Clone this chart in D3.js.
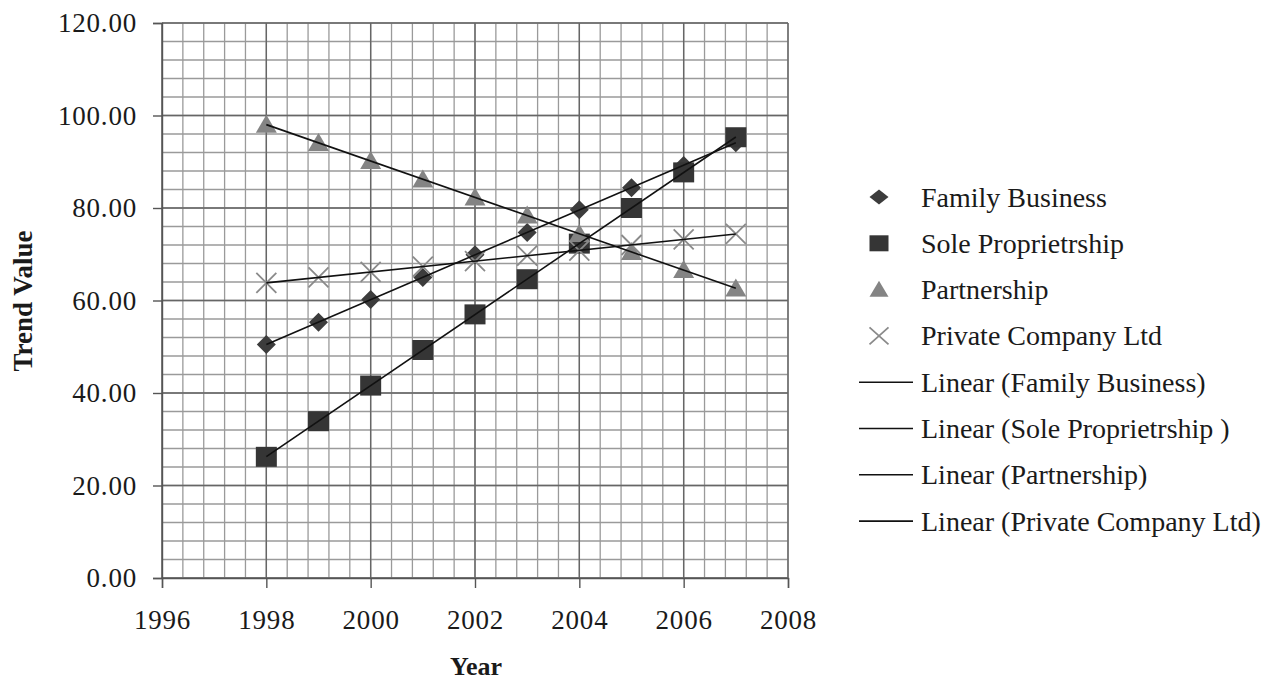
<!DOCTYPE html>
<html>
<head>
<meta charset="utf-8">
<script src="https://cdn.jsdelivr.net/npm/d3@7"></script>
<style>
  html, body { margin: 0; padding: 0; background: #fff; }
  svg { display: block; }
  text { font-family: "Liberation Serif", "Times New Roman", serif; fill: #1a1a1a; }
</style>
</head>
<body>
<svg id="chart" width="1265" height="682"></svg>
<script>
// Trend values by year for each form of business
const years = [1998, 1999, 2000, 2001, 2002, 2003, 2004, 2005, 2006, 2007];
const familyBusiness    = [50.5, 55.3, 60.2, 65.0, 69.9, 74.7, 79.6, 84.4, 89.2, 94.1];
const soleProprietrship = [26.2, 33.9, 41.6, 49.3, 57.0, 64.6, 72.3, 80.0, 87.7, 95.3];
const partnership       = [98.0, 94.1, 90.2, 86.2, 82.3, 78.4, 74.4, 70.5, 66.6, 62.6];
const privateCompany    = [63.8, 65.0, 66.2, 67.3, 68.5, 69.7, 70.8, 72.0, 73.2, 74.4];

const seriesNames = ["Family Business", "Sole Proprietrship", "Partnership", "Private Company Ltd"];
const trendNames = ["Linear (Family Business)", "Linear (Sole Proprietrship )", "Linear (Partnership)", "Linear (Private Company Ltd)"];
const xTicks = [1996, 1998, 2000, 2002, 2004, 2006, 2008];
const yTicks = [0, 20, 40, 60, 80, 100, 120];

const series = [
  { name: seriesNames[0], values: familyBusiness,    shape: "diamond",  color: "#3c3c3c" },
  { name: seriesNames[1], values: soleProprietrship, shape: "square",   color: "#353535" },
  { name: seriesNames[2], values: partnership,       shape: "triangle", color: "#848484" },
  { name: seriesNames[3], values: privateCompany,    shape: "cross",    color: "#8a8a8a" }
];

const svg = d3.select("#chart");
const plotL = 162, plotR = 788, plotT = 23, plotB = 578;

const x = d3.scaleLinear().domain([1996, 2008]).range([plotL, plotR]);
const y = d3.scaleLinear().domain([0, 120]).range([plotB, plotT]);

// grid: minor every 0.4 year / 4 units, major every 2 years / 20 units
const g = svg.append("g");
const minorX = d3.range(0, 31).map(i => 1996 + i * 0.4);
const minorY = d3.range(0, 31).map(i => i * 4);
g.selectAll("line.mx").data(minorX).join("line")
  .attr("x1", d => x(d)).attr("x2", d => x(d))
  .attr("y1", plotT).attr("y2", plotB)
  .attr("stroke", "#9a9a9a").attr("stroke-width", 1.3);
g.selectAll("line.my").data(minorY).join("line")
  .attr("y1", d => y(d)).attr("y2", d => y(d))
  .attr("x1", plotL).attr("x2", plotR)
  .attr("stroke", "#9a9a9a").attr("stroke-width", 1.3);
g.selectAll("line.MX").data(xTicks).join("line")
  .attr("x1", d => x(d)).attr("x2", d => x(d))
  .attr("y1", plotT).attr("y2", plotB)
  .attr("stroke", "#666").attr("stroke-width", 1.4);
g.selectAll("line.MY").data(yTicks).join("line")
  .attr("y1", d => y(d)).attr("y2", d => y(d))
  .attr("x1", plotL).attr("x2", plotR)
  .attr("stroke", "#666").attr("stroke-width", 1.4);

// axes
const yAxis = d3.axisLeft(y).tickValues(yTicks).tickFormat(d3.format(".2f")).tickSize(9).tickPadding(16);
const xAxis = d3.axisBottom(x).tickValues(xTicks).tickFormat(d3.format("d")).tickSize(10).tickPadding(22);
const ya = svg.append("g").attr("transform", `translate(${plotL},0)`).call(yAxis);
const xa = svg.append("g").attr("transform", `translate(0,${plotB})`).call(xAxis);
[ya, xa].forEach(a => {
  a.select(".domain").attr("stroke", "#555").attr("stroke-width", 1.4);
  a.selectAll(".tick line").attr("stroke", "#555").attr("stroke-width", 1.4);
  a.selectAll("text")
    .style("font-family", "Liberation Serif, serif")
    .style("font-size", "27px")
    .style("letter-spacing", "0.8px")
    .attr("fill", "#1a1a1a");
});

svg.append("text").attr("x", 476).attr("y", 675).attr("text-anchor", "middle")
  .style("font-size", "26px").style("font-weight", "bold").text("Year");
svg.append("text").attr("transform", "translate(32,301) rotate(-90)").attr("text-anchor", "middle")
  .style("font-size", "27px").style("font-weight", "bold").text("Trend Value");

// least-squares trend for each series
function fit(vals) {
  const n = years.length;
  const mx = d3.mean(years), my = d3.mean(vals);
  let sxy = 0, sxx = 0;
  for (let i = 0; i < n; i++) { sxy += (years[i] - mx) * (vals[i] - my); sxx += (years[i] - mx) ** 2; }
  const b = sxy / sxx, a = my - b * mx;
  return t => a + b * t;
}

function marker(sel, shape, color, w, h) {
  if (shape === "diamond") {
    sel.append("path").attr("d", `M0,${-h/2}L${w/2},0L0,${h/2}L${-w/2},0Z`).attr("fill", color);
  } else if (shape === "square") {
    sel.append("rect").attr("x", -w/2).attr("y", -h/2).attr("width", w).attr("height", h).attr("fill", color);
  } else if (shape === "triangle") {
    sel.append("path").attr("d", `M0,${-h*0.55}L${w/2},${h*0.45}L${-w/2},${h*0.45}Z`).attr("fill", color);
  } else {
    sel.append("path").attr("d", `M${-w/2},${-h/2}L${w/2},${h/2}M${-w/2},${h/2}L${w/2},${-h/2}`)
      .attr("stroke", color).attr("stroke-width", 1.8).attr("fill", "none");
  }
}

const plotMarker = { diamond: [19, 19], square: [21, 20], triangle: [21, 18], cross: [20, 20] };
const legendMarker = { diamond: [19, 15], square: [19, 16], triangle: [19, 16], cross: [19, 17] };

// markers
series.forEach(s => {
  const mg = svg.append("g");
  s.values.forEach((v, i) => {
    const p = mg.append("g").attr("transform", `translate(${x(years[i])},${y(v)})`);
    marker(p, s.shape, s.color, ...plotMarker[s.shape]);
  });
});

// trend lines drawn over markers
series.forEach(s => {
  const f = fit(s.values);
  const x0 = years[0], x1 = years[years.length - 1];
  svg.append("line")
    .attr("x1", x(x0)).attr("y1", y(f(x0)))
    .attr("x2", x(x1)).attr("y2", y(f(x1)))
    .attr("stroke", "#111").attr("stroke-width", 1.6);
});

// legend
const lg = svg.append("g");
const rowY = d3.range(8).map(i => 197 + i * 46.3);
series.forEach((s, i) => {
  const r = lg.append("g").attr("transform", `translate(879,${rowY[i]})`);
  marker(r, s.shape, s.color, ...legendMarker[s.shape]);
  lg.append("text").attr("x", 921).attr("y", rowY[i] + 9.5).style("font-size", "28px").text(s.name);
});
trendNames.forEach((t, i) => {
  const yy = rowY[i + 4];
  lg.append("line").attr("x1", 859).attr("x2", 913).attr("y1", yy).attr("y2", yy)
    .attr("stroke", "#111").attr("stroke-width", 1.6);
  lg.append("text").attr("x", 921).attr("y", yy + 9.5).style("font-size", "28px").text(t);
});
</script>
</body>
</html>
